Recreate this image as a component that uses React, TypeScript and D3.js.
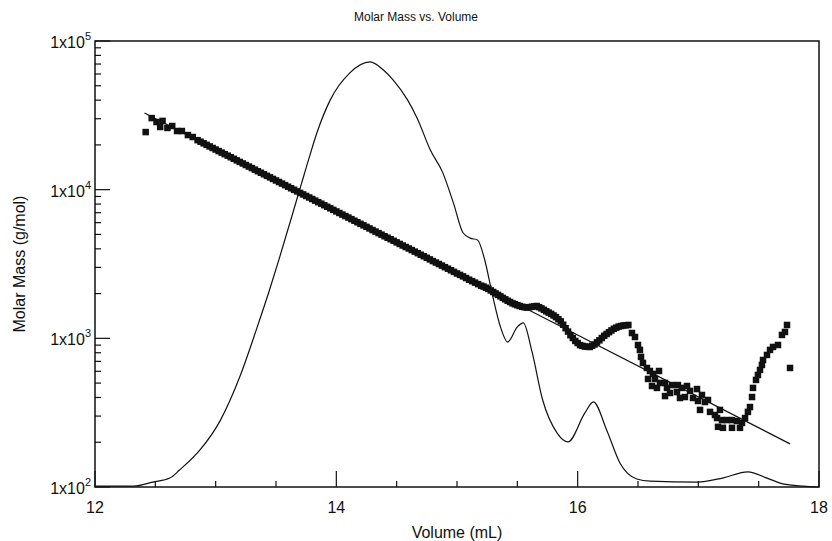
import React from 'react';
import * as d3 from 'd3';

// chromatogram (detector signal, % of plot height)
const traceVolume = [12.0, 12.32, 12.48, 12.62, 12.7, 12.87, 13.04, 13.2, 13.34, 13.45, 13.53, 13.64, 13.7, 13.76, 13.84, 13.95, 14.11, 14.28, 14.39, 14.47, 14.59, 14.67, 14.78, 14.88, 14.97, 15.05, 15.11, 15.17, 15.23, 15.29, 15.36, 15.42, 15.5, 15.55, 15.62, 15.71, 15.83, 15.92, 16.06, 16.13, 16.24, 16.35, 16.49, 16.6, 16.99, 17.2, 17.41, 17.57, 17.7, 17.87, 18.0];
const traceSignal = [0.2, 0.2, 1.1, 2.0, 3.8, 8.3, 15.0, 24.7, 35.5, 44.5, 51.5, 61.5, 67.0, 72.5, 79.5, 86.8, 92.8, 95.3, 93.5, 91.3, 86.8, 82.7, 75.5, 70.6, 63.7, 57.0, 55.8, 55.4, 50.9, 43.5, 35.9, 32.5, 35.9, 36.8, 30.5, 19.5, 12.1, 10.1, 16.6, 19.1, 12.8, 5.4, 1.8, 1.3, 1.1, 2.0, 3.4, 2.0, 0.7, 0.2, 0];

// molar mass points
const massVolume = [
  12.42, 12.47, 12.51, 12.56, 12.54, 12.6, 12.64, 12.68, 12.72, 12.77, 12.81,
  12.85, 12.9, 12.95, 13.0, 13.05, 13.1, 13.15, 13.2, 13.25, 13.3, 13.35, 13.4, 13.45, 13.5, 13.55, 13.6,
  13.65, 13.7, 13.75, 13.8, 13.85, 13.9, 13.95, 14.0, 14.05, 14.1, 14.15, 14.2, 14.25, 14.3, 14.35, 14.4,
  14.45, 14.5, 14.55, 14.6, 14.65, 14.7, 14.75, 14.8, 14.85, 14.9, 14.95, 15.0, 15.05, 15.1, 15.15, 15.2,
  15.22, 15.26, 15.3, 15.34, 15.38, 15.42, 15.46, 15.5, 15.54, 15.58, 15.62, 15.66, 15.7, 15.74, 15.78,
  15.82, 15.86, 15.9, 15.94, 15.98, 16.02, 16.06, 16.1, 16.14, 16.18, 16.22, 16.26, 16.3, 16.34, 16.38, 16.42,
  16.45, 16.475, 16.5, 16.516, 16.525, 16.541, 16.574, 16.599, 16.583, 16.624, 16.674, 16.641, 16.682,
  16.616, 16.657, 16.724, 16.74, 16.782, 16.831, 16.765, 16.724, 16.823, 16.864, 16.906, 16.931, 16.989,
  16.848, 16.889, 16.956, 16.997, 17.03, 17.055, 17.08, 17.014, 17.097, 17.138, 17.179, 17.155, 17.196,
  17.237, 17.279, 17.163, 17.204, 17.279, 17.32, 17.345, 17.362, 17.387, 17.411, 17.428, 17.445, 17.453,
  17.478, 17.494, 17.511, 17.527, 17.536, 17.569, 17.594, 17.619, 17.66, 17.693, 17.718, 17.735, 17.76,
];
const massValue = [
  24400, 30300, 28500, 29000, 26400, 26000, 26800, 24800, 24800, 23300, 22600,
  21530, 20510, 19540, 18620, 17750, 16930, 16130, 15370, 14650, 13970, 13310, 12690, 12100, 11530, 10990, 10470,
  9980, 9510, 9070, 8650, 8240, 7860, 7490, 7140, 6800, 6490, 6180, 5890, 5620, 5350, 5100, 4860,
  4640, 4420, 4210, 4020, 3830, 3650, 3480, 3310, 3160, 3010, 2870, 2730, 2610, 2480, 2370, 2260,
  2230, 2150, 2050, 1960, 1870, 1790, 1720, 1670, 1630, 1610, 1630, 1650, 1590, 1520, 1460,
  1390, 1300, 1170, 1050, 960, 900, 880, 875, 910, 970, 1040, 1100, 1160, 1200, 1220, 1230,
  1086, 1021, 902, 836, 750, 683, 632, 603, 533, 576, 603, 533, 501,
  478, 464, 501, 464, 485, 485, 429, 409, 435, 464, 478, 443, 456,
  397, 403, 397, 379, 416, 373, 385, 330, 320, 305, 330, 291, 282,
  282, 282, 254, 250, 250, 278, 250, 270, 291, 320, 345, 403, 464,
  525, 567, 613, 662, 715, 773, 836, 875, 902, 1054, 1104, 1230, 632,
];

// extra readings along the dense band (between the ones above)
const bandVolume = [
  12.875, 12.925, 12.975, 13.025, 13.075, 13.125, 13.175, 13.225, 13.275, 13.325, 13.375, 13.425,
  13.475, 13.525, 13.575, 13.625, 13.675, 13.725, 13.775, 13.825, 13.875, 13.925, 13.975, 14.025,
  14.075, 14.125, 14.175, 14.225, 14.275, 14.325, 14.375, 14.425, 14.475, 14.525, 14.575, 14.625,
  14.675, 14.725, 14.775, 14.825, 14.875, 14.925, 14.975, 15.025, 15.075, 15.125, 15.175,
  15.24, 15.28, 15.32, 15.36, 15.4, 15.44, 15.48, 15.52, 15.56, 15.6, 15.64, 15.68, 15.72, 15.76, 15.8,
  15.84, 15.88, 15.92, 15.96, 16.0, 16.04, 16.08, 16.12, 16.16, 16.2, 16.24, 16.28, 16.32, 16.36, 16.4,
];
const bandValue = [
  21015, 20020, 19075, 18180, 17335, 16525, 15745, 15005, 14305, 13635, 12995, 12390,
  11810, 11255, 10725, 10220, 9740, 9290, 8860, 8440, 8050, 7670, 7310, 6970,
  6645, 6335, 6035, 5755, 5485, 5225, 4980, 4750, 4530, 4315, 4115, 3925,
  3740, 3565, 3395, 3235, 3085, 2940, 2800, 2670, 2545, 2425, 2315,
  2190, 2100, 2005, 1915, 1830, 1755, 1695, 1650, 1620, 1620, 1640, 1620, 1555, 1490, 1425,
  1345, 1235, 1110, 1005, 930, 890, 877, 892, 940, 1005, 1070, 1130, 1180, 1210, 1225,
];

// linear fit
const fitVolume = [12.41, 17.76];
const fitMass = [32800, 195];

const volumeTicks = [12, 14, 16, 18];
const massDecades = [100, 1000, 10000, 100000];
const massExponents = ['2', '3', '4', '5'];

const W = 832;
const H = 541;
const left = 95, right = 819, top = 41, bottom = 487;
const ink = '#111';
const font = 'Arial, "Liberation Sans", Helvetica, sans-serif';

export default function App() {
  const x = d3.scaleLinear().domain([12, 18]).range([left, right]);
  const y = d3.scaleLog().domain([100, 100000]).range([bottom, top]);
  const ys = d3.scaleLinear().domain([0, 100]).range([bottom, top]);

  const traceData = traceVolume.map((v, i) => [v, traceSignal[i]] as [number, number]);
  const tracePath = d3.line<[number, number]>()
    .x((d) => x(d[0]))
    .y((d) => ys(d[1]))
    .curve(d3.curveMonotoneX)(traceData) || '';

  const fitPath = d3.line<number>()
    .x((d, i) => x(fitVolume[i]))
    .y((d) => y(d))(fitMass) || '';

  const minorX = d3.range(12, 18.01, 0.5).filter((v) => !volumeTicks.includes(v));
  const minorY: number[] = [];
  [100, 1000, 10000].forEach((dec) => {
    for (let k = 2; k <= 9; k++) minorY.push(dec * k);
  });

  const points = massVolume.map((v, i) => [v, massValue[i]])
    .concat(bandVolume.map((v, i) => [v, bandValue[i]]));

  const sq = 6.5;

  return (
    <div style={{ position: 'absolute', left: 0, top: 0 }}>
      <svg width={W} height={H} style={{ display: 'block', background: '#fff' }} fontFamily={font}>
        <text x={416} y={21} textAnchor="middle" fontSize={12} fill={ink}>Molar Mass vs. Volume</text>

        {/* chromatogram */}
        <path d={tracePath} fill="none" stroke={ink} strokeWidth={1.2} />

        {/* fit line */}
        <path d={fitPath} fill="none" stroke={ink} strokeWidth={1.2} />

        {/* molar mass points */}
        <g fill={ink}>
          {points.map((p, i) => (
            <rect key={i} x={x(p[0]) - sq / 2} y={y(p[1]) - sq / 2} width={sq} height={sq} />
          ))}
        </g>

        {/* frame */}
        <rect x={left} y={top} width={right - left} height={bottom - top} fill="none" stroke={ink} strokeWidth={1.5} />

        {/* ticks */}
        <g stroke={ink} strokeWidth={1.2}>
          {volumeTicks.map((v) => (
            <line key={'M' + v} x1={x(v)} x2={x(v)} y1={bottom} y2={bottom - 16} />
          ))}
          {minorX.map((v) => (
            <line key={'m' + v} x1={x(v)} x2={x(v)} y1={bottom} y2={bottom - 6} />
          ))}
          {massDecades.map((m) => (
            <line key={'YM' + m} x1={left} x2={left + 15} y1={y(m)} y2={y(m)} />
          ))}
          {minorY.map((m) => (
            <line key={'Ym' + m} x1={left} x2={left + 6} y1={y(m)} y2={y(m)} />
          ))}
        </g>

        {/* x tick labels */}
        {volumeTicks.map((v) => (
          <text key={v} x={x(v)} y={513} textAnchor="middle" fontSize={16} fill={ink}>{v}</text>
        ))}

        {/* y tick labels */}
        {massDecades.map((m, i) => (
          <text key={m} x={91} y={y(m) + 7} textAnchor="end" fontSize={16} fill={ink}>
            1x10<tspan dy={-8} fontSize={11}>{massExponents[i]}</tspan>
          </text>
        ))}

        <text x={457} y={538} textAnchor="middle" fontSize={16} fill={ink}>Volume (mL)</text>
        <text transform={`translate(25,${(top + bottom) / 2}) rotate(-90)`} textAnchor="middle" fontSize={16} fill={ink}>
          Molar Mass (g/mol)
        </text>
      </svg>
    </div>
  );
}
